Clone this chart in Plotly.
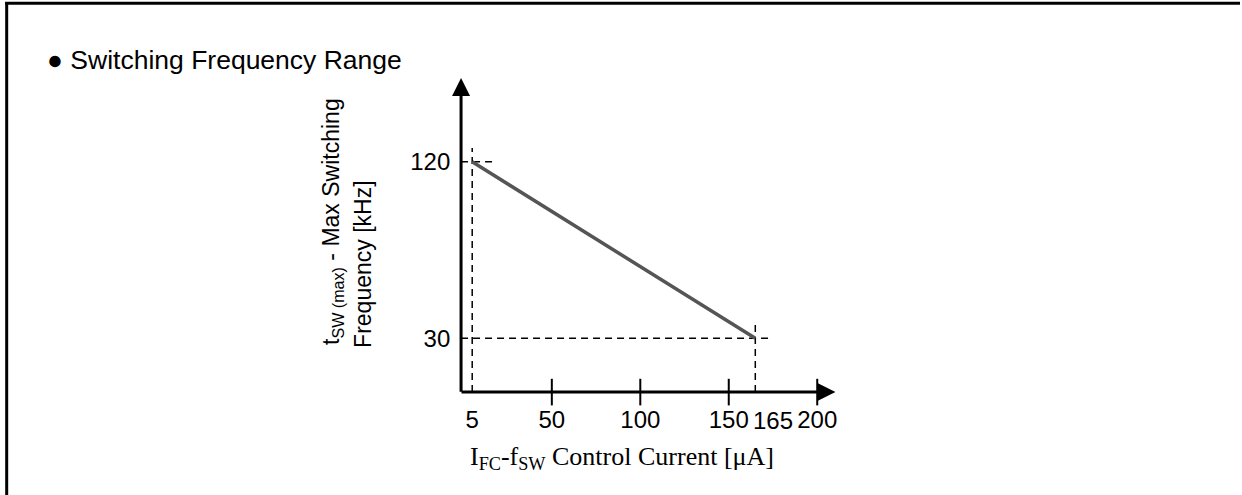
import plotly.graph_objects as go

# ---- data ----
x_points = [5, 165]            # I_FC-f_SW control current [uA]
f_points = [120, 30]           # max switching frequency [kHz]
x_tick_vals = [5, 50, 100, 150, 200]
x_tick_text = ["5", "50", "100", "150", "200"]
x_extra_tick_val = 165
x_extra_tick_text = "165"
x_marks = [50, 100, 150, 200]  # small crossing ticks on the x axis
y_tick_vals = [30, 120]
y_tick_text = ["30", "120"]

# ---- style / layout constants ----
W, H = 1242, 495
X_RANGE = [-1.3, 210.3]
Y_RANGE = [2.6, 162.7]
SANS = "Liberation Sans, Arial, sans-serif"
SERIF = "Liberation Serif, Times New Roman, serif"
X_EXT = 12.0   # dashed guide extension beyond the point (data units)
Y_EXT = 7.0

def px(x):
    return x / W

def py(y):
    return 1 - y / H

fig = go.Figure()

# dashed guide lines
guides = [
    ([x_points[0], x_points[0]], [Y_RANGE[0], f_points[0] + Y_EXT]),
    ([X_RANGE[0], x_points[0] + X_EXT], [f_points[0], f_points[0]]),
    ([x_points[1], x_points[1]], [Y_RANGE[0], f_points[1] + Y_EXT + 1.5]),
    ([X_RANGE[0], x_points[1] + X_EXT * 0.8], [f_points[1], f_points[1]]),
]
for gx, gy in guides:
    fig.add_trace(go.Scatter(x=gx, y=gy, mode="lines",
                             line=dict(color="black", width=1.5, dash="7px,5px"),
                             hoverinfo="skip", cliponaxis=False))

# main characteristic line
fig.add_trace(go.Scatter(x=x_points, y=f_points, mode="lines",
                         line=dict(color="#555555", width=3.5),
                         hoverinfo="skip", cliponaxis=False))

# crossing ticks on x axis
fig.add_trace(go.Scatter(x=x_marks, y=[Y_RANGE[0]] * len(x_marks), mode="markers",
                         marker=dict(symbol="line-ns-open", size=19, color="black",
                                     line=dict(color="black", width=2)),
                         hoverinfo="skip", cliponaxis=False))

annotations = []
# axis arrows
annotations.append(dict(x=X_RANGE[1], y=Y_RANGE[0], ax=X_RANGE[0] - 0.6, ay=Y_RANGE[0],
                        xref="x", yref="y", axref="x", ayref="y", text="",
                        showarrow=True, arrowhead=2, arrowsize=1.2, arrowwidth=3,
                        arrowcolor="black"))
annotations.append(dict(x=X_RANGE[0], y=Y_RANGE[1], ax=X_RANGE[0], ay=Y_RANGE[0] - 0.6,
                        xref="x", yref="y", axref="x", ayref="y", text="",
                        showarrow=True, arrowhead=2, arrowsize=1.2, arrowwidth=3,
                        arrowcolor="black"))
# crowded tick label
annotations.append(dict(x=x_extra_tick_val, y=Y_RANGE[0], xref="x", yref="y",
                        text=x_extra_tick_text, showarrow=False,
                        xanchor="left", yanchor="middle", xshift=-4, yshift=-28,
                        font=dict(family=SANS, size=24, color="black")))
# title
annotations.append(dict(x=px(45), y=py(59.5), xref="paper", yref="paper",
                        text="\u25cf Switching Frequency Range", showarrow=False,
                        xanchor="left", yanchor="middle",
                        font=dict(family=SANS, size=26.5, color="black")))
# y axis title (two lines)
annotations.append(dict(x=px(333), y=py(347), xref="paper", yref="paper",
                        text="t<sub>SW (max)</sub> - Max Switching", showarrow=False,
                        textangle=-90, xanchor="center", yanchor="bottom",
                        font=dict(family=SANS, size=23, color="black")))
annotations.append(dict(x=px(363), y=py(350), xref="paper", yref="paper",
                        text="Frequency [kHz]", showarrow=False,
                        textangle=-90, xanchor="center", yanchor="bottom",
                        font=dict(family=SANS, size=23, color="black")))
# x axis title
annotations.append(dict(x=px(623), y=py(458), xref="paper", yref="paper",
                        text="I<sub>FC</sub>-f<sub>SW</sub> Control Current [\u03bcA]",
                        showarrow=False, xanchor="center", yanchor="middle",
                        font=dict(family=SERIF, size=26, color="black")))

# frame (top and left edges visible in the crop)
shapes = [
    dict(type="line", xref="paper", yref="paper", x0=px(5.2), x1=1.0,
         y0=py(3.3), y1=py(3.3), line=dict(color="black", width=3)),
    dict(type="line", xref="paper", yref="paper", x0=px(6.7), x1=px(6.7),
         y0=py(2), y1=0.0, line=dict(color="black", width=3)),
]

fig.update_layout(
    width=W, height=H,
    margin=dict(l=0, r=0, t=0, b=0),
    paper_bgcolor="white", plot_bgcolor="white",
    showlegend=False,
    annotations=annotations,
    shapes=shapes,
    xaxis=dict(domain=[px(461.8), px(836.8)], range=X_RANGE,
               tickvals=x_tick_vals, ticktext=x_tick_text, tickangle=0,
               ticks="outside", ticklen=6, tickcolor="rgba(0,0,0,0)",
               showgrid=False, zeroline=False, showline=False,
               tickfont=dict(family=SANS, size=24, color="black")),
    yaxis=dict(domain=[py(392.1), py(78.0)], range=Y_RANGE,
               tickvals=y_tick_vals, ticktext=y_tick_text,
               ticks="outside", ticklen=5, tickcolor="rgba(0,0,0,0)",
               showgrid=False, zeroline=False, showline=False,
               tickfont=dict(family=SANS, size=24, color="black")),
)

fig.write_html("out.html", config={"displayModeBar": False},
               post_script="document.body.style.margin='0';document.body.style.padding='0';")
